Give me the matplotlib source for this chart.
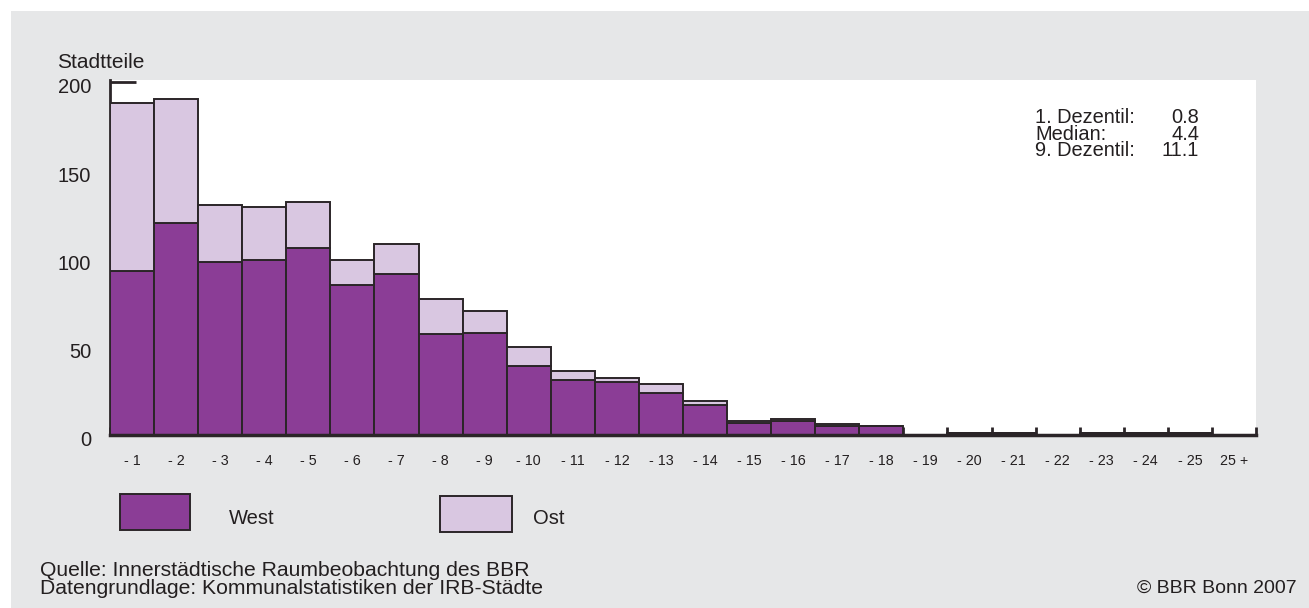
import matplotlib
matplotlib.use("Agg")
import matplotlib.pyplot as plt
from matplotlib.patches import Rectangle
from matplotlib.transforms import ScaledTranslation
import numpy as np

categories = ["- 1", "- 2", "- 3", "- 4", "- 5", "- 6", "- 7", "- 8", "- 9", "- 10",
              "- 11", "- 12", "- 13", "- 14", "- 15", "- 16", "- 17", "- 18", "- 19",
              "- 20", "- 21", "- 22", "- 23", "- 24", "- 25", "25 +"]
west = [93, 120, 98, 99, 106, 85, 91, 57, 58, 39, 31, 30, 24, 17, 7, 8, 5, 5, 0, 1, 1, 0, 1, 1, 1, 0]
ost = [95, 70, 32, 30, 26, 14, 17, 20, 12, 11, 5, 2, 5, 2, 1, 1, 1, 0, 0, 0, 0, 0, 0, 0, 0, 0]
y_ticks = [0, 50, 100, 150, 200]
stats_labels = ["1. Dezentil:", "Median:", "9. Dezentil:"]
stats_values = ["0.8", "4.4", "11.1"]

W, H = 1309, 608
plt.rcParams['font.family'] = ['Liberation Sans', 'DejaVu Sans']
fig = plt.figure(figsize=(W / 100, H / 100), dpi=100)
fig.patch.set_facecolor("white")

def fx(x):
    return x / W

def fy(y):
    return 1 - y / H

# grey background panel
fig.patches.append(Rectangle((fx(11), 0), 1 - fx(11), fy(11), transform=fig.transFigure,
                             facecolor="#e6e7e8", edgecolor="none", zorder=-10))

ax = fig.add_axes([fx(110), fy(435), fx(1256) - fx(110), fy(80) - fy(435)])
ax.set_facecolor("white")

west_c = "#8b3d96"
ost_c = "#d9c7e1"
edge_c = "#2b2528"
text_c = "#231f20"

x = np.arange(len(categories))
ax.bar(x, west, width=1.0, color=west_c, edgecolor=edge_c, linewidth=1.4, zorder=2)
ax.bar(x, ost, bottom=west, width=1.0, color=ost_c, edgecolor=edge_c, linewidth=1.4, zorder=2)

ax.set_xlim(-0.5, len(categories) - 0.5)
ax.set_ylim(0, 201)

for s in ["top", "right"]:
    ax.spines[s].set_visible(False)
ax.spines["left"].set_color(edge_c)
ax.spines["left"].set_linewidth(2)
ax.spines["bottom"].set_color(edge_c)
ax.spines["bottom"].set_linewidth(2.5)
ax.spines["left"].set_zorder(1)
ax.spines["bottom"].set_zorder(3)

ax.set_axisbelow(True)
ax.set_yticks(y_ticks)
ax.set_yticklabels([str(v) for v in y_ticks], fontsize=14.5, color=text_c)
ax.tick_params(axis="y", direction="in", length=19, width=2, color=edge_c, pad=13.5)
shift = ScaledTranslation(0, -4 / 100, fig.dpi_scale_trans)
for lbl in ax.get_yticklabels():
    lbl.set_transform(lbl.get_transform() + shift)

ax.set_xticks(x)
ax.set_xticklabels(categories, fontsize=10.3, color=text_c)
ax.tick_params(axis="x", which="major", length=0, pad=14)
ax.set_xticks(np.arange(len(categories) + 1) - 0.5, minor=True)
ax.tick_params(axis="x", which="minor", direction="in", length=6, width=2, color=edge_c)
for t in ax.xaxis.get_minorticklines():
    t.set_zorder(1)

# y-axis title
fig.text(fx(57), fy(62), "Stadtteile", fontsize=15, color=text_c, va="center", ha="left")

# statistics box
for i, (lab, val) in enumerate(zip(stats_labels, stats_values)):
    yy = 117.5 + i * 16.5
    fig.text(fx(1035), fy(yy), lab, fontsize=14.4, color=text_c, va="center", ha="left")
    fig.text(fx(1199), fy(yy), val, fontsize=14.4, color=text_c, va="center", ha="right")

# legend
fig.patches.append(Rectangle((fx(120), fy(530)), fx(190) - fx(120), fy(494) - fy(530),
                             transform=fig.transFigure, facecolor=west_c, edgecolor=edge_c, linewidth=1.4))
fig.text(fx(229), fy(518), "West", fontsize=14.5, color=text_c, va="center", ha="left")
fig.patches.append(Rectangle((fx(440), fy(532)), fx(512) - fx(440), fy(496) - fy(532),
                             transform=fig.transFigure, facecolor=ost_c, edgecolor=edge_c, linewidth=1.4))
fig.text(fx(533), fy(519), "Ost", fontsize=14.5, color=text_c, va="center", ha="left")

# footer
fig.text(fx(40), fy(571), "Quelle: Innerstädtische Raumbeobachtung des BBR", fontsize=15.2,
         color=text_c, va="center", ha="left")
fig.text(fx(40), fy(588), "Datengrundlage: Kommunalstatistiken der IRB-Städte", fontsize=15.2,
         color=text_c, va="center", ha="left")
fig.text(fx(1297), fy(588), "© BBR Bonn 2007", fontsize=14, color=text_c, va="center", ha="right")

fig.savefig("out.png", dpi=100, facecolor=fig.get_facecolor())
